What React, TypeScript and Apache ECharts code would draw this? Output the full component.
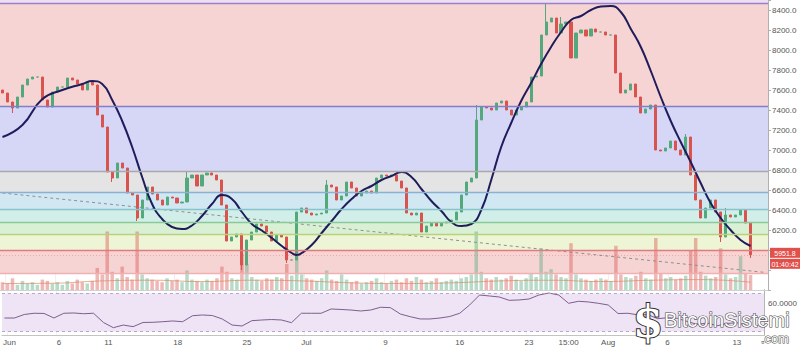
import React, { useEffect, useRef } from 'react';
import * as echarts from 'echarts';

// ---- data (12h candles, index = category) ----
const closes = [
  7570, 7480, 7420, 7530, 7650, 7710, 7730, 7730, 7500, 7430,
  7580, 7630, 7630, 7720, 7700, 7660, 7600, 7680, 7650, 7350,
  7230, 6780, 6720, 6870, 6820, 6570, 6550, 6320, 6500, 6630,
  6560, 6500, 6450, 6530, 6520, 6470, 6480, 6720, 6750, 6640,
  6750, 6770, 6750, 6700, 6450, 6090, 6130, 6160, 5850, 6100,
  6180, 6260, 6240, 6180, 6090, 6150, 6130, 5900, 5900, 6380,
  6420, 6370, 6350, 6360, 6370, 6650, 6630, 6500, 6540, 6680,
  6620, 6540, 6570, 6590, 6570, 6720, 6750, 6740, 6750, 6690,
  6620, 6370, 6350, 6370, 6180, 6240, 6270, 6240, 6270, 6280,
  6300, 6380, 6550, 6680, 6720, 7300, 7430, 7420, 7400, 7470,
  7490, 7400, 7350, 7400, 7430, 7480, 7730, 7740, 8150, 8280,
  8320, 8170, 8260, 8280, 7920, 8170, 8200, 8140, 8210, 8180,
  8180, 8150, 8150, 7770, 7570, 7600, 7660, 7530, 7370, 7410,
  7450, 7000, 6990, 7020, 7090, 7000, 6950, 7130, 6750, 6500,
  6320, 6420, 6500, 6380, 6130, 6350, 6330, 6350, 6400, 6270,
  5951.8,
];
const firstOpen = 7600;
const wickHighs: [number, number][] = [[109, 8470], [112, 8330], [37, 6790], [65, 6700], [95, 7450], [137, 7160], [145, 6420]];
const wickLows: [number, number][] = [[2, 7370], [27, 6290], [48, 5800], [57, 5870], [144, 6080], [150, 5920], [22, 6680]];

const volumes = [
  6, 5, 9, 4, 7, 5, 6, 4, 8, 7,
  5, 6, 4, 7, 5, 8, 6, 5, 7, 17,
  12, 45, 14, 9, 18, 10, 8, 45, 12, 9,
  8, 7, 6, 9, 7, 8, 6, 15, 8, 7,
  6, 8, 7, 9, 18, 14, 9, 8, 28, 20,
  10, 8, 7, 9, 8, 10, 9, 20, 11, 30,
  12, 9, 8, 7, 9, 15, 8, 7, 12, 8,
  6, 7, 5, 6, 7, 9, 6, 5, 7, 8,
  6, 9, 7, 10, 8, 6, 7, 9, 6, 7,
  8, 7, 9, 10, 12, 45, 14, 9, 8, 10,
  8, 9, 11, 8, 7, 9, 13, 10, 32, 14,
  16, 12, 10, 9, 36, 12, 9, 8, 7, 8,
  9, 8, 7, 34, 12, 10, 9, 11, 14, 9,
  8, 40, 13, 9, 10, 8, 9, 11, 30, 40,
  14, 11, 9, 10, 32, 12, 9, 10, 26, 13,
  11.5,
];
const volumeMA: [number, number][] = [
  [0, 5], [10, 5.2], [20, 7], [30, 7.5], [40, 6.5], [50, 7.5], [60, 7], [70, 5.5],
  [80, 5], [90, 5.5], [100, 7], [110, 7.5], [120, 6.5], [130, 7.5], [140, 8], [150, 6],
];

const hma: [number, number][] = [
  [0, 7130], [4, 7250], [8, 7510], [12, 7600], [16, 7660], [18, 7690], [20, 7660], [22, 7500],
  [24, 7290], [26, 7030], [28, 6730], [30, 6460], [32, 6310], [34, 6230], [36, 6210], [38, 6245],
  [40, 6340], [42, 6460], [44, 6550], [46, 6510], [48, 6380], [50, 6260], [52, 6195], [54, 6120],
  [56, 6040], [58, 5970], [59, 5950], [60, 5970], [62, 6050], [64, 6170], [66, 6290], [68, 6410],
  [70, 6510], [72, 6590], [74, 6640], [76, 6700], [78, 6740], [80, 6780], [82, 6730], [84, 6610],
  [86, 6490], [88, 6390], [90, 6280], [92, 6240], [94, 6260], [96, 6400], [98, 6700], [100, 7030],
  [102, 7270], [104, 7490], [106, 7670], [108, 7860], [110, 8030], [112, 8180], [114, 8300],
  [116, 8340], [118, 8400], [120, 8435], [122, 8440], [124, 8380], [126, 8210], [128, 8030],
  [130, 7790], [132, 7530], [134, 7290], [136, 7080], [138, 6880], [140, 6670], [142, 6470],
  [144, 6320], [146, 6200], [148, 6100], [150, 6040],
];

const rsi: [number, number][] = [
  [0, 44.2], [2, 44.2], [4, 47.9], [6, 49.2], [8, 49.0], [10, 44.2], [12, 49.2], [14, 49.5],
  [16, 48.7], [18, 49.2], [20, 39.5], [22, 34.0], [24, 36.8], [26, 35.1], [28, 39.5], [30, 39.7],
  [32, 40.3], [34, 41.1], [36, 40.3], [38, 46.6], [40, 47.4], [42, 46.8], [44, 43.2], [46, 36.8],
  [48, 35.8], [50, 41.4], [52, 42.1], [54, 42.6], [56, 42.1], [58, 39.3], [60, 49.2], [62, 49.2],
  [64, 49.2], [66, 53.7], [68, 53.2], [70, 52.6], [72, 51.6], [74, 52.6], [76, 55.5], [78, 55.1],
  [80, 48.4], [82, 45.6], [84, 43.2], [86, 43.2], [88, 44.2], [90, 45.8], [92, 49.2], [94, 57.9],
  [96, 68.4], [98, 67.4], [100, 66.3], [102, 62.8], [104, 63.2], [106, 64.2], [108, 68.4],
  [110, 70.5], [112, 68.4], [114, 59.7], [116, 61.8], [118, 61.1], [120, 59.7], [122, 57.9],
  [124, 48.9], [126, 49.2], [128, 47.5], [130, 47.8], [132, 43.5], [134, 44.5], [136, 43.8],
  [138, 40.5], [140, 37.5], [142, 39.0], [144, 36.0], [146, 38.5], [148, 39.2], [150, 36.7],
];

// fib levels (price) and band fills
const fibLevels = [8470, 7433, 6790, 6580, 6410, 6280, 6160, 6000, 5770];
const fibLineColors = ['#9d80c6', '#7f7fca', '#a9a9a9', '#8cb0d2', '#88c2ca', '#8aca9a', '#b7d27c', '#e07c7c', '#eeb0b0'];
const bandTops = [8500, 8470, 7433, 6790, 6580, 6410, 6280, 6160, 6000];
const bandBottoms = [8470, 7433, 6790, 6580, 6410, 6280, 6160, 6000, 5770];
const bandColors = ['#ecdff4', '#f7d4d4', '#d6d6f6', '#e4e4e4', '#d1e8f3', '#d1efe8', '#daf0d4', '#eef5d6', '#f7d4d4'];

const trendStart: [number, number] = [0, 6570];
const trendEnd: [number, number] = [153, 5775];

const categoryCount = 154;
const tickLabels = ['Jun', '6', '11', '18', '25', 'Jul', '9', '16', '23', '15:00', 'Aug', '6', '13'];
const tickIndex = [1, 11, 21, 35, 49, 61, 77, 92, 106, 114, 122, 134, 148];

const countdown = '01:40:42';
const volLegend = ['11.498K', '5.917K'];
const hmaLegend = '6031.3955';
const rsiLegend = '36.7413';

const UP = '#53a97c';
const DOWN = '#d9534f';
const FONT = 'Arial, "Liberation Sans", sans-serif';

export default function App() {
  const ref = useRef<HTMLDivElement>(null);
  useEffect(() => {
    if (!ref.current) return;
    const chart = echarts.init(ref.current, undefined, { renderer: 'svg' });

    const cats = Array.from({ length: categoryCount }, (_, i) => String(i));
    const tickSet = new Set(tickIndex);
    const labelMap: Record<number, string> = {};
    tickIndex.forEach((t, k) => (labelMap[t] = tickLabels[k]));
    const hiMap = new Map(wickHighs);
    const loMap = new Map(wickLows);

    const candles = closes.map((c, i) => {
      const o = i === 0 ? firstOpen : closes[i - 1];
      const hi = Math.max(o, c, hiMap.get(i) ?? -Infinity);
      const lo = Math.min(o, c, loMap.get(i) ?? Infinity);
      return [o, c, lo, hi];
    });
    const volData = volumes.map((v, i) => {
      const up = candles[i][1] >= candles[i][0];
      return { value: v, itemStyle: { color: up ? 'rgba(83,169,124,0.42)' : 'rgba(217,83,79,0.42)' } };
    });

    const splitInterval = (i: number) => tickSet.has(i);
    const last = closes[closes.length - 1];

    const option: any = {
      animation: false,
      backgroundColor: '#ffffff',
      textStyle: { fontFamily: FONT },
      grid: [
        { left: 0, right: 32, top: 0, height: 290 },
        { left: 0, right: 32, top: 289.7, height: 45.6 },
      ],
      xAxis: [
        {
          type: 'category', gridIndex: 0, data: cats,
          axisLine: { show: true, lineStyle: { color: '#d0d0d0' } },
          axisTick: { show: false }, axisLabel: { show: false },
          splitLine: { show: true, interval: splitInterval, lineStyle: { color: 'rgba(0,0,0,0.06)' } },
        },
        {
          type: 'category', gridIndex: 1, data: cats,
          axisLine: { show: true, lineStyle: { color: '#c4c4c4' } },
          axisTick: { show: false },
          axisLabel: {
            interval: splitInterval, fontSize: 8, color: '#555', margin: 3, fontFamily: FONT,
            formatter: (v: string) => labelMap[Number(v)] ?? '',
          },
          splitLine: { show: true, interval: splitInterval, lineStyle: { color: 'rgba(0,0,0,0.05)' } },
        },
      ],
      yAxis: [
        {
          type: 'value', gridIndex: 0, position: 'right', min: 5600, max: 8500, interval: 200,
          axisLine: { show: true, lineStyle: { color: '#b0b0b0' } },
          axisTick: { show: true, length: 3, lineStyle: { color: '#b0b0b0' } },
          axisLabel: {
            fontSize: 8, color: '#555', margin: 4, fontFamily: FONT,
            formatter: (v: number) => (v >= 6200 && v <= 8400 ? v.toFixed(1) : ''),
          },
          splitLine: { show: true, lineStyle: { color: 'rgba(0,0,0,0.045)' } },
        },
        { type: 'value', gridIndex: 0, min: 0, max: 223, show: false },
        {
          type: 'value', gridIndex: 1, position: 'right', min: 26, max: 74, interval: 2,
          axisLine: { show: true, lineStyle: { color: '#b0b0b0' } },
          axisTick: { show: false },
          axisLabel: {
            fontSize: 8, color: '#555', margin: 4, fontFamily: FONT,
            formatter: (v: number) => (v === 60 ? v.toFixed(4) : ''),
          },
          splitLine: { show: false },
        },
      ],
      series: [
        {
          name: 'bands', type: 'line', xAxisIndex: 0, yAxisIndex: 0, data: [], z: 0, silent: true,
          markArea: {
            silent: true,
            data: bandTops.map((t, k) => [
              { yAxis: bandBottoms[k], itemStyle: { color: bandColors[k] } },
              { yAxis: t },
            ]),
          },
          markLine: {
            silent: true, symbol: 'none',
            label: { show: false },
            data: fibLevels.map((lv, k) => ({ yAxis: lv, lineStyle: { color: fibLineColors[k], width: 1.3, type: 'solid' } })),
          },
        },
        {
          name: 'Vol', type: 'bar', xAxisIndex: 0, yAxisIndex: 1, data: volData, barWidth: 3.5, z: 1, silent: true,
        },
        {
          name: 'VolMA', type: 'line', xAxisIndex: 0, yAxisIndex: 1, data: volumeMA, smooth: true, symbol: 'none',
          lineStyle: { color: 'rgba(215,140,100,0.7)', width: 1 }, z: 1, silent: true,
        },
        {
          name: 'trend', type: 'line', xAxisIndex: 0, yAxisIndex: 0, data: [trendStart, trendEnd], symbol: 'none',
          lineStyle: { color: '#8f8f8f', width: 1, type: [3, 3] }, z: 2, silent: true,
        },
        {
          name: 'price', type: 'candlestick', xAxisIndex: 0, yAxisIndex: 0, data: candles, barWidth: 2.6, z: 3,
          itemStyle: { color: UP, color0: DOWN, borderColor: UP, borderColor0: DOWN, borderWidth: 1 },
          markLine: {
            silent: true, symbol: 'none',
            lineStyle: { color: 'rgba(226,80,76,0.35)', width: 1, type: [1, 2] },
            label: {
              show: true, position: 'end', distance: 2, padding: [7, 0, 0, 0],
              formatter: `{a|${last.toFixed(1)}}\n{b|${countdown}}`,
              rich: {
                a: { backgroundColor: '#e2504c', color: '#fff', fontSize: 7, padding: [2, 3, 1, 3], lineHeight: 11, width: 24, align: 'center', fontFamily: FONT },
                b: { backgroundColor: '#e2504c', color: '#fff', fontSize: 7, padding: [2, 1, 1, 1], lineHeight: 11, width: 28, align: 'center', fontFamily: FONT },
              },
            },
            data: [{ yAxis: last }],
          },
        },
        {
          name: 'HMA', type: 'line', xAxisIndex: 0, yAxisIndex: 0, data: hma, smooth: true, symbol: 'none',
          lineStyle: { color: '#1f1c5c', width: 2 }, z: 4, silent: true,
        },
        {
          name: 'RSI', type: 'line', xAxisIndex: 1, yAxisIndex: 2, data: rsi, symbol: 'none',
          lineStyle: { color: '#7d5f8c', width: 1 }, z: 3, silent: true,
          markArea: { silent: true, itemStyle: { color: '#efe3f6' }, data: [[{ yAxis: 30 }, { yAxis: 70 }]] },
          markLine: {
            silent: true, symbol: 'none', label: { show: false },
            lineStyle: { color: '#b7a6c6', type: [3, 3], width: 1 },
            data: [{ yAxis: 70 }, { yAxis: 30 }],
          },
        },
      ],
      graphic: [
        // legends
        { type: 'text', x: 2, y: 6, style: { text: 'Vol (20)', fontSize: 8, fill: '#333', fontFamily: FONT, textVerticalAlign: 'middle', verticalAlign: 'middle' } },
        ...[37, 47, 57, 67].map((x) => ({ type: 'rect', shape: { x, y: 2, width: 8, height: 8 }, style: { fill: '#e9e3e3', stroke: '#c4bcbc', lineWidth: 1 } })),
        { type: 'text', x: 78, y: 6, style: { text: volLegend[0], fontSize: 8, fill: '#de5a4e', fontFamily: FONT, textVerticalAlign: 'middle', verticalAlign: 'middle' } },
        { type: 'text', x: 108, y: 6, style: { text: volLegend[1], fontSize: 8, fill: '#e4a34a', fontFamily: FONT, textVerticalAlign: 'middle', verticalAlign: 'middle' } },
        { type: 'text', x: 2, y: 17, style: { text: 'HMA (100, close)', fontSize: 8, fill: '#333', fontFamily: FONT, textVerticalAlign: 'middle', verticalAlign: 'middle' } },
        ...[63, 73, 83, 93].map((x) => ({ type: 'rect', shape: { x, y: 13, width: 8, height: 8 }, style: { fill: '#e9e3e3', stroke: '#c4bcbc', lineWidth: 1 } })),
        { type: 'text', x: 104, y: 17, style: { text: hmaLegend, fontSize: 8, fill: '#56508f', fontFamily: FONT, textVerticalAlign: 'middle', verticalAlign: 'middle' } },
        { type: 'text', x: 2, y: 298, style: { text: 'RSI (50, close)', fontSize: 8, fill: '#333', fontFamily: FONT, textVerticalAlign: 'middle', verticalAlign: 'middle' } },
        ...[56, 66, 76, 86].map((x) => ({ type: 'rect', shape: { x, y: 294, width: 8, height: 8 }, style: { fill: '#e6dfee', stroke: '#c0b6cc', lineWidth: 1 } })),
        { type: 'text', x: 97, y: 298, style: { text: rsiLegend, fontSize: 8, fill: '#8b5f98', fontFamily: FONT, textVerticalAlign: 'middle', verticalAlign: 'middle' } },
        // watermark
        {
          type: 'text', x: 648, y: 321, z: 100,
          style: { text: '$', fontSize: 44, fontWeight: 'bold', fill: '#ffffff', stroke: '#2b2b2b', lineWidth: 2, fontFamily: 'DejaVu Serif, serif', textAlign: 'center', textVerticalAlign: 'middle', align: 'center', verticalAlign: 'middle' },
        },
        {
          type: 'text', x: 664, y: 320, z: 100,
          style: { text: 'BitcoinSistemi', fontSize: 20, fill: '#ffffff', stroke: '#4a4a4a', lineWidth: 1.2, fontFamily: FONT, textVerticalAlign: 'middle', verticalAlign: 'middle' },
        },
        {
          type: 'text', x: 761, y: 338, z: 100,
          style: { text: '.com', fontSize: 13, fill: '#ffffff', stroke: '#4a4a4a', lineWidth: 1, fontFamily: FONT, textVerticalAlign: 'middle', verticalAlign: 'middle' },
        },
      ],
    };

    chart.setOption(option);
    return () => chart.dispose();
  }, []);

  return <div ref={ref} style={{ position: 'fixed', left: 0, top: 0, width: 800, height: 351 }} />;
}
